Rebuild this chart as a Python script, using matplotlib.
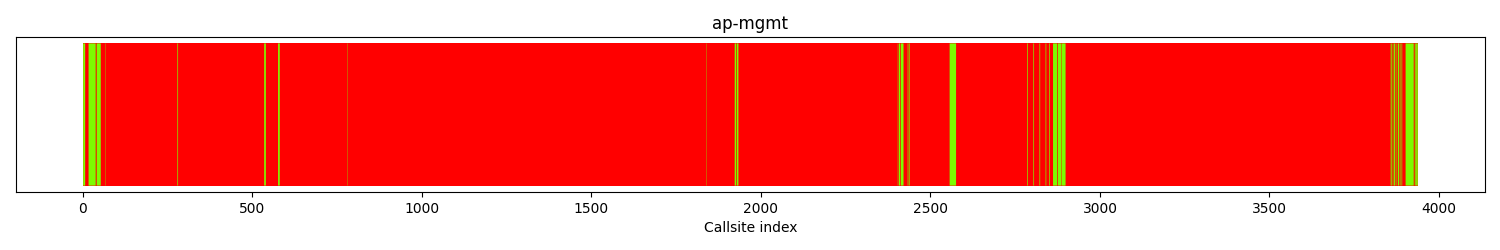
import numpy as np
import matplotlib
matplotlib.use("Agg")
import matplotlib.pyplot as plt

# number of callsites and the runs of "green" callsites (start index, run length)
n_callsites = 3938
green_starts = [1, 17, 41, 66, 279, 535, 576, 781, 1839, 1923, 1929,
                2404, 2407, 2413, 2433, 2436, 2557,
                2786, 2804, 2822, 2840, 2851, 2862, 2876, 2887,
                3858, 3864, 3868, 3873, 3879, 3885, 3890, 3902, 3929, 3933]
green_lengths = [6, 21, 12, 1, 2, 5, 5, 1, 1, 4, 5,
                 1, 4, 8, 1, 3, 19,
                 2, 2, 2, 2, 2, 12, 10, 12,
                 3, 2, 3, 2, 4, 2, 2, 24, 3, 5]

fig = plt.figure(figsize=(15, 2.5), dpi=100)
ax = fig.add_axes([0.0107, 0.232, 0.979, 0.62])

# every callsite is red unless it belongs to a green run
ax.bar(-0.5, 1, width=n_callsites, align='edge', color='red', linewidth=0)
gb = ax.bar(np.array(green_starts) - 0.5, 1, width=green_lengths, align='edge',
            color='lawngreen', linewidth=0)
for p in gb:
    p.set_snap(False)

ax.set_ylim(-0.045, 1.045)
ax.set_yticks([])
ax.set_title("ap-mgmt")
ax.set_xlabel("Callsite index")

fig.savefig("out.png", dpi=100)
